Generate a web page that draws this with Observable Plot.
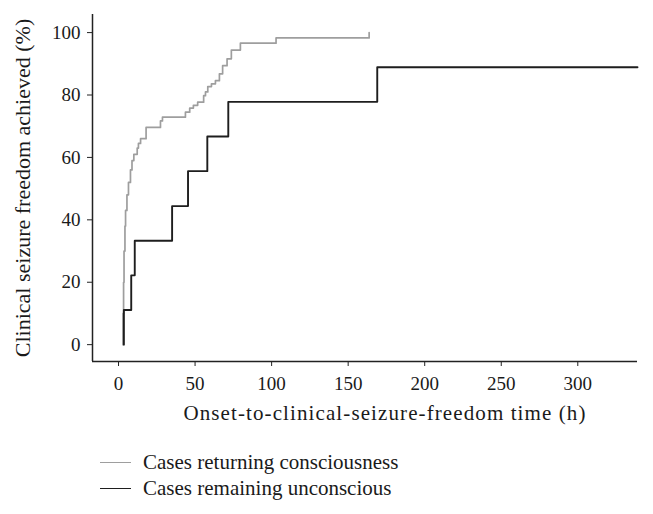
<!DOCTYPE html>
<html>
<head>
<meta charset="utf-8">
<script src="https://cdn.jsdelivr.net/npm/d3@7"></script>
<script src="https://cdn.jsdelivr.net/npm/@observablehq/plot@0.6"></script>
<style>
  body { margin: 0; background: #fff; font-family: "Liberation Serif", serif; }
  #legend { margin-top: 19px; margin-left: 100px; font-size: 21px; color: #1a1a1a; line-height: 26px; }
  .item { display: flex; align-items: center; }
  .swatch { width: 31px; height: 0; margin-right: 12px; }
</style>
</head>
<body>
<div id="chart"></div>
<div id="legend"></div>
<script>
// Series labels
const seriesNames = ["Cases returning consciousness", "Cases remaining unconscious"];
const seriesColors = ["#9e9e9e", "#1e1e1e"];

// Cases returning consciousness: onset-to-freedom times (h) and cumulative %
const grayTimes = [2.9, 2.9, 3.3, 3.6, 4.2, 4.6, 5.5, 6.5, 7.8, 8.8, 10, 12.2, 13, 14.4, 18, 27.4, 28.7, 43.7, 46.5, 48.9, 51.7, 55.6, 56.8, 58.3, 60.7, 63.3, 65.9, 68, 70.9, 73.7, 79.6, 102.9, 163.7];
const grayPct   = [0, 10, 20, 30, 38, 43, 48, 52, 56, 59, 61, 63, 64.5, 66, 69.6, 71.7, 72.9, 74.5, 75.8, 76.7, 77.7, 79.8, 81, 82.7, 83.6, 84.6, 86.8, 89.4, 91.6, 94.4, 96.6, 98.3, 100];

// Cases remaining unconscious
const blackTimes = [3.5, 3.5, 8.3, 10.6, 35, 45.4, 58, 71.7, 169, 339];
const blackPct   = [0, 11.1, 22.2, 33.3, 44.4, 55.6, 66.7, 77.8, 88.9, 88.9];

// Axes
const xTicks = [0, 50, 100, 150, 200, 250, 300];
const yTicks = [0, 20, 40, 60, 80, 100];
const xDomain = [-17, 339];
const yDomain = [-5.4, 105.8];
const xTitle = ["Onset-to-clinical-seizure-freedom time (h)"];
const yTitle = ["Clinical seizure freedom achieved (%)"];

const gray = grayTimes.map((t, i) => ({t, p: grayPct[i]}));
const black = blackTimes.map((t, i) => ({t, p: blackPct[i]}));

const chart = Plot.plot({
  width: 653,
  height: 430,
  marginLeft: 92,
  marginRight: 16,
  marginTop: 14,
  marginBottom: 69,
  x: {domain: xDomain},
  y: {domain: yDomain},
  style: {fontFamily: "Liberation Serif", fontSize: "19px", color: "#1a1a1a", background: "#fff"},
  marks: [
    Plot.axisY({ticks: yTicks, tickSize: 5, tickPadding: 7, stroke: "#222", fontSize: 19, label: null}),
    Plot.axisX({ticks: xTicks, tickSize: 5, tickPadding: 10, stroke: "#222", fontSize: 19, label: null}),
    Plot.text(yTitle, {frameAnchor: "left", dx: -70, rotate: -90, fontSize: 22, text: d => d, textAnchor: "middle", lineAnchor: "middle", fill: "#1a1a1a"}),
    Plot.text(xTitle, {frameAnchor: "bottom", dy: 52, dx: 20, fontSize: 21, text: d => d, textAnchor: "middle", lineAnchor: "middle", fill: "#1a1a1a"}),
    Plot.ruleX([xDomain[0]], {stroke: "#222", strokeWidth: 1.5}),
    Plot.ruleY([yDomain[0]], {stroke: "#222", strokeWidth: 1.5}),
    Plot.line(gray, {x: "t", y: "p", curve: "step-after", stroke: seriesColors[0], strokeWidth: 1.7}),
    Plot.line(black, {x: "t", y: "p", curve: "step-after", stroke: seriesColors[1], strokeWidth: 1.9})
  ]
});
document.getElementById("chart").append(chart);
// letter spacing for the x-axis title
chart.querySelectorAll("text").forEach(t => { if (t.textContent === xTitle[0]) t.style.letterSpacing = "1.1px"; });

const legend = document.getElementById("legend");
seriesNames.forEach((name, i) => {
  const item = document.createElement("div");
  item.className = "item";
  const sw = document.createElement("span");
  sw.className = "swatch";
  sw.style.borderTop = `1.7px solid ${seriesColors[i]}`;
  const label = document.createElement("span");
  label.textContent = name;
  item.append(sw, label);
  legend.append(item);
});
</script>
</body>
</html>
